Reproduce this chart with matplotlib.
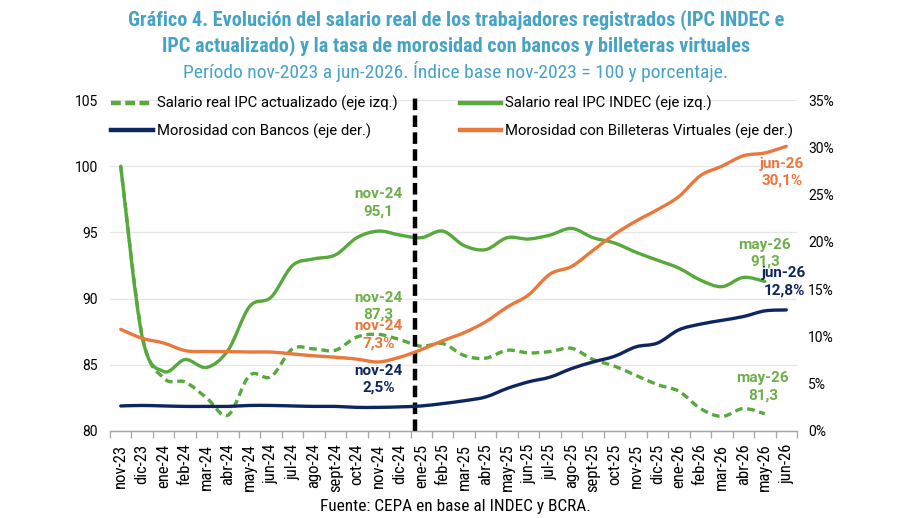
import numpy as np
import matplotlib
matplotlib.use('Agg')
import matplotlib.pyplot as plt
from matplotlib import font_manager as fm
from matplotlib.path import Path
from matplotlib.patches import PathPatch
from matplotlib.lines import Line2D
from matplotlib.ticker import FixedLocator, FuncFormatter

# --- data ---
months = ['nov-23', 'dic-23', 'ene-24', 'feb-24', 'mar-24', 'abr-24', 'may-24',
          'jun-24', 'jul-24', 'ago-24', 'sept-24', 'oct-24', 'nov-24', 'dic-24',
          'ene-25', 'feb-25', 'mar-25', 'abr-25', 'may-25', 'jun-25', 'jul-25',
          'ago-25', 'sept-25', 'oct-25', 'nov-25', 'dic-25', 'ene-26', 'feb-26',
          'mar-26', 'abr-26', 'may-26', 'jun-26']

# left axis (index nov-2023 = 100), nov-23 .. may-26
salario_indec = [100.0, 87.1, 84.5, 85.4, 84.8, 86.1, 89.4, 90.1, 92.5, 93.0,
                 93.3, 94.6, 95.1, 94.8, 94.6, 95.1, 94.0, 93.7, 94.6, 94.5,
                 94.8, 95.3, 94.6, 94.2, 93.5, 92.9, 92.3, 91.4, 90.9, 91.6, 91.3]
salario_actualizado = [100.0, 87.2, 84.0, 83.7, 82.5, 81.2, 84.2, 84.1, 86.2,
                       86.2, 86.1, 87.1, 87.3, 86.9, 86.4, 86.6, 85.7, 85.5,
                       86.1, 85.9, 86.0, 86.25, 85.4, 84.9, 84.2, 83.5, 83.0,
                       81.7, 81.1, 81.7, 81.3]

# right axis (%), nov-23 .. jun-26
mora_bancos = [2.65, 2.7, 2.65, 2.6, 2.6, 2.6, 2.7, 2.7, 2.65, 2.6, 2.6, 2.5,
               2.5, 2.55, 2.65, 2.9, 3.2, 3.6, 4.5, 5.2, 5.7, 6.6, 7.3, 7.9,
               8.9, 9.3, 10.7, 11.3, 11.7, 12.1, 12.7, 12.8]
mora_billeteras = [10.75, 9.8, 9.3, 8.5, 8.4, 8.4, 8.35, 8.35, 8.15, 7.95, 7.8,
                   7.6, 7.3, 7.8, 8.6, 9.55, 10.4, 11.55, 13.1, 14.4, 16.6,
                   17.4, 19.1, 20.8, 22.2, 23.4, 24.8, 27.0, 28.0, 29.1, 29.4,
                   30.1]

left_ticks = [80, 85, 90, 95, 100, 105]
right_ticks = [0, 5, 10, 15, 20, 25, 30, 35]
split_pos = 13.7  # vertical dashed separator, between dic-24 and ene-25

GREEN = '#56A93A'
GREEN_TXT = '#6DB04A'
NAVY = '#0E2660'
ORANGE = '#EA773C'
TITLE = '#45A3C6'


def pick(names):
    for n in names:
        try:
            fm.findfont(fm.FontProperties(family=n), fallback_to_default=False)
            return n
        except ValueError:
            pass
    return 'DejaVu Sans'


narrow = pick(['Liberation Sans Narrow', 'Roboto Condensed', 'Roboto'])
main = pick(['Roboto', 'Liberation Sans', 'DejaVu Sans'])
plt.rcParams['font.family'] = [main, 'DejaVu Sans']


def smooth_path(xs, ys):
    # Excel-like smoothed line as cubic Bezier segments (Catmull-Rom)
    pts = np.column_stack([xs, ys]).astype(float)
    n = len(pts)
    verts = [pts[0]]
    codes = [Path.MOVETO]
    for i in range(n - 1):
        p0 = pts[max(i - 1, 0)]
        p1 = pts[i]
        p2 = pts[i + 1]
        p3 = pts[min(i + 2, n - 1)]
        verts += [p1 + (p2 - p0) / 6, p2 - (p3 - p1) / 6, p2]
        codes += [Path.CURVE4] * 3
    return Path(verts, codes)


fig = plt.figure(figsize=(9.12, 5.18), dpi=100)
ax = fig.add_axes([110 / 912, 1 - 431 / 518, 687 / 912, 331 / 518])
ax2 = ax.twinx()

x_left = np.arange(len(salario_indec))
x_right = np.arange(len(mora_bancos))
lw = 2.4

ax.add_patch(PathPatch(smooth_path(x_left, salario_actualizado), fc='none',
                       ec=GREEN, lw=lw, ls=(0, (2.3, 1.4)), capstyle='butt'))
ax.add_patch(PathPatch(smooth_path(x_left, salario_indec), fc='none',
                       ec=GREEN, lw=lw, capstyle='round'))
ax2.add_patch(PathPatch(smooth_path(x_right, mora_bancos), fc='none',
                        ec=NAVY, lw=lw, capstyle='round'))
ax2.add_patch(PathPatch(smooth_path(x_right, mora_billeteras), fc='none',
                        ec=ORANGE, lw=lw, capstyle='round'))

ax.set_xlim(-0.5, len(months) - 0.5)
ax.set_ylim(80, 105)
ax2.set_ylim(0, 35)

ax.set_yticks(left_ticks)
ax2.set_yticks(right_ticks)
ax2.yaxis.set_major_formatter(FuncFormatter(lambda v, p: f'{v:.0f}%'))
ax.grid(axis='y', color='#E6E6E6', lw=0.9)
ax.set_axisbelow(True)

ax.set_xticks(np.arange(len(months)))
ax.set_xticklabels(months, rotation=90, family=narrow, fontsize=12)
ax.xaxis.set_minor_locator(FixedLocator(np.arange(len(months) + 1) - 0.5))
ax.tick_params(axis='x', which='major', length=0, pad=9)
ax.tick_params(axis='x', which='minor', length=5, color='#A6A6A6', width=0.9)
ax.tick_params(axis='y', length=0, pad=8.6, labelsize=10)
ax2.tick_params(axis='y', length=0, pad=8, labelsize=10)

for a in (ax, ax2):
    for s in ('top', 'left', 'right'):
        a.spines[s].set_visible(False)
    a.spines['bottom'].set_color('#A6A6A6')
    a.spines['bottom'].set_linewidth(0.9)

# separator line
ax.plot([split_pos, split_pos], [80, 105.35], color='black', lw=3.2,
        ls=(0, (2.6, 1.2)), clip_on=False, zorder=10)


def fmt(v, pct=False):
    s = f'{v:.1f}'.replace('.', ',')
    return s + '%' if pct else s


def label(src, i, series, color, pct=False, dx=0, dy=28, z=12):
    # data label anchored on the point, drawn on the top axes
    ax2.annotate(f'{months[i]}\n{fmt(series[i], pct)}', xy=(i, series[i]),
                 xycoords=src.transData, xytext=(dx * 0.72, dy * 0.72),
                 textcoords='offset points', ha='center', va='center',
                 color=color, fontsize=11, fontweight='bold',
                 linespacing=1.3, zorder=z)


label(ax, 12, salario_indec, GREEN_TXT)
label(ax, 12, salario_actualizado, GREEN_TXT)
label(ax2, 12, mora_billeteras, ORANGE, pct=True, dy=27)
label(ax2, 12, mora_bancos, NAVY, pct=True, dy=28)
label(ax2, 31, mora_billeteras, ORANGE, pct=True, dx=-4, dy=-26)
label(ax, 30, salario_indec, GREEN_TXT, z=11)
label(ax2, 31, mora_bancos, NAVY, pct=True, dx=-2, dy=28)
label(ax, 30, salario_actualizado, GREEN_TXT, dx=-2, dy=27)

handles = [
    Line2D([], [], color=GREEN, lw=3.2, ls=(0, (2.2, 1.0))),
    Line2D([], [], color=NAVY, lw=3.2),
    Line2D([], [], color=GREEN, lw=3.2),
    Line2D([], [], color=ORANGE, lw=3.2),
]
labels = ['Salario real IPC actualizado (eje izq.)',
          'Morosidad con Bancos (eje der.)',
          'Salario real IPC INDEC (eje izq.)',
          'Morosidad con Billeteras Virtuales (eje der.)']
fig.legend(handles, labels, ncol=2, loc='upper left',
           bbox_to_anchor=(111 / 912, 1 - 96 / 518), frameon=False,
           borderpad=0, borderaxespad=0, fontsize=10.7, handlelength=2.8,
           handletextpad=0.27, columnspacing=4.2, labelspacing=0.83)

fig.text(0.5, 1 - 32.5 / 518,
         'Gráfico 4. Evolución del salario real de los trabajadores registrados (IPC INDEC e\n'
         'IPC actualizado) y la tasa de morosidad con bancos y billeteras virtuales',
         ha='center', va='center', color=TITLE, family=narrow,
         fontweight='bold', fontsize=14.6, linespacing=1.33)
fig.text(0.5, 1 - 72 / 518,
         'Período nov-2023 a jun-2026. Índice base nov-2023 = 100 y porcentaje.',
         ha='center', va='center', color=TITLE, family=narrow, fontsize=14)
fig.text(455 / 912, 1 - 507 / 518, 'Fuente: CEPA en base al INDEC y BCRA.',
         ha='center', va='center', family=narrow, fontsize=12.4)

fig.savefig('out.png', dpi=100)
